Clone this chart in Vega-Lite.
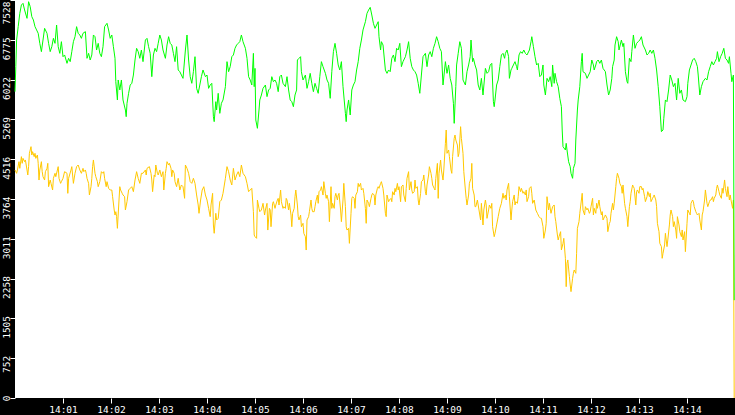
{
  "$schema": "https://vega.github.io/schema/vega-lite/v6.json",
  "description": "Two live series over 15 minutes, 14:00 to 14:15, on a black frame",
  "width": 720,
  "height": 398,
  "autosize": {"type": "none"},
  "padding": {"left": 15, "top": 0, "right": 0, "bottom": 17},
  "background": "black",
  "config": {
    "view": {"fill": "white", "stroke": null},
    "axis": {
      "grid": false,
      "domain": false,
      "tickColor": "white",
      "tickSize": 5,
      "labelColor": "white",
      "labelFont": "DejaVu Sans Mono",
      "labelFontSize": 9.5,
      "title": null
    }
  },
  "datasets": {
    "g": [
      {"t":0,"v":5794},{"t":1,"v":6267},{"t":2,"v":6771},{"t":4,"v":7024},{"t":6,"v":7276},{"t":8,"v":7433},{"t":10,"v":7465},{"t":12,"v":7339},{"t":15,"v":7181},{"t":17,"v":7496},{"t":19,"v":7402},{"t":21,"v":7213},{"t":23,"v":7150},{"t":25,"v":7024},{"t":27,"v":6961},{"t":29,"v":6898},{"t":31,"v":6708},{"t":33,"v":6551},{"t":35,"v":6771},{"t":37,"v":6992},{"t":40,"v":6898},{"t":42,"v":6708},{"t":44,"v":6551},{"t":46,"v":6645},{"t":48,"v":6803},{"t":50,"v":6708},{"t":52,"v":7055},{"t":54,"v":6645},{"t":56,"v":6519},{"t":58,"v":6740},{"t":60,"v":6456},{"t":62,"v":6488},{"t":65,"v":6330},{"t":67,"v":6425},{"t":69,"v":6362},{"t":71,"v":6551},{"t":73,"v":6740},{"t":75,"v":6834},{"t":77,"v":7024},{"t":79,"v":6898},{"t":81,"v":6866},{"t":83,"v":6803},{"t":85,"v":6898},{"t":88,"v":6929},{"t":90,"v":6425},{"t":92,"v":6519},{"t":94,"v":6393},{"t":96,"v":6488},{"t":98,"v":6866},{"t":100,"v":6834},{"t":102,"v":6582},{"t":104,"v":6708},{"t":106,"v":6519},{"t":108,"v":6456},{"t":110,"v":6645},{"t":112,"v":7024},{"t":115,"v":7087},{"t":117,"v":6961},{"t":119,"v":6803},{"t":121,"v":6866},{"t":123,"v":6645},{"t":125,"v":6425},{"t":126,"v":5983},{"t":128,"v":5637},{"t":129,"v":6015},{"t":131,"v":5826},{"t":133,"v":6015},{"t":135,"v":5637},{"t":138,"v":5447},{"t":139,"v":5321},{"t":140,"v":5574},{"t":142,"v":5763},{"t":144,"v":5920},{"t":146,"v":5952},{"t":148,"v":6109},{"t":150,"v":6393},{"t":152,"v":6614},{"t":154,"v":6551},{"t":156,"v":6425},{"t":158,"v":6582},{"t":160,"v":6362},{"t":163,"v":6771},{"t":165,"v":6803},{"t":167,"v":6645},{"t":169,"v":6519},{"t":171,"v":6078},{"t":173,"v":6488},{"t":175,"v":6614},{"t":177,"v":6551},{"t":179,"v":6708},{"t":181,"v":6866},{"t":183,"v":6771},{"t":185,"v":6582},{"t":188,"v":6425},{"t":190,"v":6677},{"t":192,"v":6834},{"t":194,"v":6708},{"t":196,"v":6677},{"t":198,"v":6519},{"t":200,"v":6362},{"t":202,"v":6645},{"t":204,"v":6204},{"t":206,"v":6172},{"t":208,"v":6109},{"t":210,"v":6046},{"t":213,"v":6582},{"t":215,"v":6866},{"t":217,"v":6393},{"t":219,"v":6078},{"t":221,"v":5952},{"t":223,"v":6172},{"t":225,"v":6456},{"t":227,"v":5857},{"t":229,"v":5763},{"t":231,"v":5920},{"t":233,"v":6078},{"t":235,"v":6204},{"t":238,"v":6078},{"t":240,"v":6109},{"t":242,"v":5857},{"t":244,"v":5920},{"t":246,"v":5952},{"t":248,"v":5321},{"t":249,"v":5227},{"t":251,"v":5605},{"t":252,"v":5447},{"t":254,"v":5763},{"t":256,"v":5384},{"t":258,"v":5574},{"t":260,"v":5637},{"t":263,"v":5889},{"t":265,"v":6362},{"t":267,"v":6172},{"t":269,"v":6267},{"t":271,"v":6456},{"t":273,"v":6488},{"t":275,"v":6614},{"t":277,"v":6677},{"t":279,"v":6708},{"t":281,"v":6740},{"t":283,"v":6866},{"t":285,"v":6740},{"t":288,"v":6614},{"t":290,"v":6425},{"t":292,"v":6078},{"t":294,"v":6015},{"t":296,"v":5920},{"t":298,"v":6519},{"t":299,"v":5889},
      {"t":300,"v":6235},{"t":301,"v":5258},{"t":303,"v":5101},{"t":305,"v":5447},{"t":306,"v":5637},{"t":308,"v":5731},{"t":310,"v":5857},{"t":313,"v":5920},{"t":315,"v":5700},{"t":317,"v":5826},{"t":319,"v":5857},{"t":321,"v":6078},{"t":323,"v":5983},{"t":325,"v":6015},{"t":327,"v":5952},{"t":329,"v":5794},{"t":331,"v":6078},{"t":333,"v":6109},{"t":335,"v":5952},{"t":338,"v":5889},{"t":340,"v":6078},{"t":342,"v":5826},{"t":344,"v":5637},{"t":346,"v":5605},{"t":348,"v":5510},{"t":350,"v":5731},{"t":352,"v":5826},{"t":353,"v":6393},{"t":355,"v":6425},{"t":357,"v":6456},{"t":358,"v":6172},{"t":360,"v":6015},{"t":363,"v":6109},{"t":365,"v":5857},{"t":367,"v":5983},{"t":369,"v":6141},{"t":371,"v":5952},{"t":373,"v":5794},{"t":375,"v":5952},{"t":377,"v":5857},{"t":379,"v":5763},{"t":381,"v":6078},{"t":383,"v":6362},{"t":385,"v":6267},{"t":388,"v":6141},{"t":390,"v":6015},{"t":392,"v":5952},{"t":394,"v":5668},{"t":396,"v":6172},{"t":398,"v":6551},{"t":400,"v":6708},{"t":402,"v":6519},{"t":404,"v":6299},{"t":406,"v":6204},{"t":408,"v":6362},{"t":410,"v":5889},{"t":413,"v":5384},{"t":414,"v":5227},{"t":415,"v":5447},{"t":417,"v":5637},{"t":419,"v":5353},{"t":421,"v":5826},{"t":423,"v":5920},{"t":425,"v":5983},{"t":427,"v":6204},{"t":429,"v":6362},{"t":431,"v":6614},{"t":433,"v":6771},{"t":435,"v":6961},{"t":438,"v":7118},{"t":440,"v":7276},{"t":442,"v":7339},{"t":444,"v":7389},{"t":446,"v":7244},{"t":448,"v":7087},{"t":450,"v":6992},{"t":452,"v":7055},{"t":454,"v":7118},{"t":455,"v":6834},{"t":457,"v":6582},{"t":458,"v":6740},{"t":460,"v":6677},{"t":463,"v":6204},{"t":465,"v":6141},{"t":467,"v":6204},{"t":469,"v":6172},{"t":471,"v":6425},{"t":473,"v":6488},{"t":475,"v":6362},{"t":477,"v":6614},{"t":479,"v":6582},{"t":481,"v":6708},{"t":483,"v":6267},{"t":485,"v":6362},{"t":488,"v":6456},{"t":490,"v":6582},{"t":492,"v":6740},{"t":494,"v":6425},{"t":496,"v":6267},{"t":498,"v":6204},{"t":500,"v":6172},{"t":502,"v":6109},{"t":504,"v":5952},{"t":506,"v":5763},{"t":508,"v":6109},{"t":510,"v":6456},{"t":513,"v":6519},{"t":515,"v":6267},{"t":517,"v":6488},{"t":519,"v":6551},{"t":521,"v":6456},{"t":523,"v":6614},{"t":525,"v":6708},{"t":527,"v":6834},{"t":529,"v":6740},{"t":531,"v":6614},{"t":533,"v":6551},{"t":535,"v":5920},{"t":538,"v":6362},{"t":540,"v":6141},{"t":542,"v":6299},{"t":544,"v":6046},{"t":546,"v":5920},{"t":548,"v":5574},{"t":549,"v":5195},{"t":551,"v":5889},{"t":552,"v":6299},{"t":554,"v":6519},{"t":556,"v":6740},{"t":558,"v":6614},{"t":560,"v":6015},{"t":563,"v":5920},{"t":565,"v":6172},{"t":567,"v":6299},{"t":569,"v":6456},{"t":570,"v":6771},{"t":572,"v":6362},{"t":573,"v":6425},{"t":575,"v":6299},{"t":577,"v":6204},{"t":579,"v":5920},{"t":581,"v":5826},{"t":583,"v":6046},{"t":585,"v":5731},{"t":588,"v":6235},{"t":590,"v":6141},{"t":592,"v":6172},{"t":594,"v":6299},{"t":596,"v":6330},{"t":598,"v":5605},{"t":599,"v":5510},
      {"t":600,"v":5637},{"t":602,"v":5920},{"t":604,"v":6015},{"t":606,"v":6267},{"t":608,"v":6488},{"t":610,"v":6519},{"t":612,"v":6425},{"t":613,"v":6519},{"t":615,"v":6582},{"t":617,"v":6456},{"t":618,"v":6046},{"t":620,"v":6204},{"t":621,"v":6235},{"t":623,"v":6299},{"t":625,"v":6362},{"t":627,"v":6267},{"t":628,"v":6204},{"t":630,"v":6488},{"t":632,"v":6551},{"t":634,"v":6519},{"t":636,"v":6582},{"t":638,"v":6519},{"t":640,"v":6488},{"t":643,"v":6582},{"t":645,"v":6740},{"t":646,"v":6834},{"t":648,"v":6645},{"t":650,"v":6456},{"t":652,"v":6299},{"t":654,"v":6330},{"t":656,"v":6078},{"t":658,"v":6109},{"t":660,"v":6299},{"t":661,"v":5920},{"t":663,"v":5731},{"t":665,"v":6046},{"t":667,"v":5983},{"t":669,"v":6078},{"t":671,"v":5889},{"t":672,"v":6299},{"t":674,"v":5952},{"t":675,"v":6141},{"t":677,"v":5983},{"t":679,"v":5889},{"t":681,"v":5668},{"t":683,"v":5510},{"t":684,"v":5069},{"t":685,"v":4754},{"t":688,"v":4691},{"t":689,"v":4817},{"t":690,"v":4691},{"t":692,"v":4470},{"t":694,"v":4376},{"t":695,"v":4250},{"t":697,"v":4155},{"t":698,"v":4344},{"t":700,"v":4439},{"t":701,"v":4880},{"t":703,"v":5447},{"t":704,"v":5637},{"t":706,"v":5889},{"t":708,"v":6362},{"t":709,"v":6519},{"t":710,"v":6172},{"t":713,"v":6141},{"t":715,"v":6046},{"t":717,"v":6109},{"t":719,"v":6172},{"t":721,"v":6393},{"t":723,"v":6299},{"t":724,"v":6204},{"t":726,"v":6299},{"t":727,"v":6362},{"t":729,"v":6393},{"t":731,"v":6330},{"t":733,"v":6393},{"t":735,"v":6235},{"t":738,"v":6172},{"t":740,"v":5920},{"t":742,"v":5731},{"t":744,"v":5826},{"t":746,"v":6046},{"t":747,"v":6267},{"t":749,"v":6393},{"t":750,"v":6677},{"t":752,"v":6834},{"t":754,"v":6740},{"t":755,"v":6582},{"t":758,"v":6771},{"t":760,"v":6645},{"t":761,"v":6708},{"t":763,"v":6172},{"t":765,"v":5983},{"t":766,"v":5952},{"t":768,"v":6425},{"t":770,"v":6362},{"t":771,"v":6551},{"t":773,"v":6866},{"t":775,"v":6614},{"t":777,"v":6708},{"t":779,"v":6740},{"t":781,"v":6771},{"t":783,"v":6834},{"t":785,"v":6677},{"t":788,"v":6582},{"t":790,"v":6488},{"t":792,"v":6519},{"t":794,"v":6582},{"t":796,"v":6519},{"t":798,"v":6582},{"t":800,"v":6425},{"t":802,"v":6204},{"t":804,"v":5889},{"t":806,"v":5510},{"t":808,"v":5038},{"t":810,"v":5069},{"t":811,"v":5290},{"t":813,"v":5637},{"t":815,"v":5605},{"t":817,"v":5826},{"t":819,"v":6109},{"t":821,"v":6015},{"t":823,"v":5889},{"t":825,"v":5952},{"t":827,"v":5637},{"t":829,"v":6046},{"t":831,"v":5763},{"t":833,"v":5826},{"t":835,"v":5637},{"t":838,"v":5605},{"t":840,"v":5700},{"t":841,"v":5952},{"t":843,"v":6204},{"t":845,"v":6299},{"t":847,"v":6393},{"t":849,"v":6425},{"t":851,"v":6362},{"t":853,"v":6267},{"t":854,"v":6109},{"t":856,"v":5731},{"t":858,"v":5889},{"t":860,"v":5983},{"t":863,"v":6046},{"t":865,"v":6015},{"t":867,"v":6172},{"t":869,"v":6267},{"t":871,"v":6362},{"t":873,"v":6299},{"t":875,"v":6362},{"t":877,"v":6425},{"t":878,"v":6551},{"t":880,"v":6362},{"t":882,"v":6456},{"t":884,"v":6519},{"t":886,"v":6614},{"t":888,"v":6425},{"t":890,"v":6393},{"t":892,"v":6330},{"t":893,"v":6456},{"t":895,"v":6141},{"t":896,"v":5983},{"t":898,"v":6109},{"t":899,"v":1850}
    ],
    "o": [
      {"t":0,"v":4313},{"t":2,"v":4250},{"t":3,"v":4313},{"t":5,"v":4470},{"t":6,"v":4344},{"t":8,"v":4565},{"t":9,"v":4439},{"t":10,"v":4533},{"t":12,"v":4470},{"t":13,"v":4502},{"t":15,"v":4313},{"t":16,"v":4218},{"t":17,"v":4376},{"t":18,"v":4628},{"t":20,"v":4754},{"t":21,"v":4596},{"t":22,"v":4659},{"t":24,"v":4565},{"t":25,"v":4628},{"t":26,"v":4533},{"t":28,"v":4596},{"t":29,"v":4439},{"t":30,"v":4123},{"t":31,"v":4313},{"t":33,"v":4470},{"t":34,"v":4281},{"t":35,"v":4186},{"t":37,"v":4123},{"t":38,"v":4281},{"t":40,"v":4344},{"t":41,"v":4439},{"t":42,"v":3997},{"t":44,"v":4123},{"t":45,"v":4060},{"t":47,"v":3934},{"t":48,"v":4155},{"t":50,"v":4250},{"t":51,"v":4186},{"t":53,"v":4313},{"t":54,"v":4376},{"t":55,"v":4155},{"t":57,"v":4060},{"t":58,"v":4092},{"t":60,"v":4155},{"t":62,"v":4281},{"t":65,"v":4250},{"t":66,"v":3871},{"t":67,"v":4155},{"t":70,"v":4313},{"t":71,"v":4376},{"t":73,"v":4060},{"t":75,"v":4250},{"t":77,"v":4376},{"t":79,"v":4407},{"t":81,"v":4313},{"t":83,"v":4250},{"t":85,"v":4344},{"t":86,"v":4281},{"t":88,"v":4313},{"t":89,"v":4250},{"t":90,"v":4155},{"t":92,"v":4060},{"t":93,"v":3840},{"t":95,"v":3997},{"t":96,"v":4155},{"t":97,"v":4376},{"t":98,"v":4502},{"t":100,"v":4250},{"t":101,"v":4186},{"t":103,"v":4092},{"t":104,"v":3997},{"t":106,"v":4092},{"t":108,"v":4281},{"t":110,"v":4250},{"t":111,"v":4281},{"t":112,"v":4155},{"t":114,"v":3997},{"t":115,"v":4092},{"t":117,"v":3966},{"t":119,"v":3934},{"t":121,"v":3934},{"t":122,"v":3808},{"t":124,"v":3556},{"t":125,"v":3461},{"t":126,"v":3524},{"t":127,"v":3430},{"t":128,"v":3209},{"t":130,"v":3745},{"t":131,"v":3997},{"t":132,"v":3934},{"t":134,"v":3871},{"t":135,"v":3840},{"t":137,"v":3808},{"t":138,"v":3556},{"t":140,"v":3714},{"t":142,"v":3934},{"t":144,"v":3966},{"t":146,"v":3997},{"t":148,"v":3903},{"t":150,"v":4123},{"t":152,"v":4281},{"t":154,"v":4155},{"t":156,"v":4060},{"t":158,"v":4250},{"t":160,"v":4250},{"t":163,"v":4313},{"t":164,"v":4218},{"t":165,"v":4344},{"t":168,"v":4376},{"t":170,"v":4250},{"t":171,"v":4123},{"t":172,"v":3903},{"t":174,"v":4218},{"t":175,"v":4186},{"t":176,"v":4407},{"t":178,"v":4250},{"t":179,"v":4218},{"t":181,"v":4313},{"t":183,"v":4186},{"t":185,"v":4281},{"t":186,"v":3934},{"t":188,"v":4250},{"t":189,"v":4344},{"t":190,"v":4470},{"t":192,"v":4407},{"t":193,"v":4439},{"t":195,"v":4344},{"t":196,"v":4186},{"t":197,"v":4313},{"t":199,"v":4250},{"t":200,"v":4092},{"t":202,"v":3997},{"t":204,"v":4155},{"t":206,"v":3934},{"t":208,"v":4029},{"t":210,"v":3997},{"t":212,"v":3777},{"t":213,"v":4407},{"t":215,"v":4344},{"t":217,"v":4250},{"t":219,"v":4092},{"t":221,"v":4060},{"t":223,"v":4155},{"t":225,"v":4060},{"t":227,"v":3840},{"t":229,"v":3651},{"t":230,"v":3493},{"t":232,"v":3745},{"t":234,"v":3934},{"t":236,"v":3997},{"t":238,"v":3840},{"t":240,"v":3745},{"t":242,"v":3587},{"t":244,"v":3430},{"t":245,"v":3651},{"t":247,"v":3871},{"t":248,"v":3272},{"t":249,"v":3115},{"t":251,"v":3493},{"t":252,"v":3367},{"t":254,"v":3398},{"t":256,"v":3714},{"t":258,"v":3745},{"t":260,"v":3871},{"t":263,"v":4155},{"t":265,"v":4376},{"t":267,"v":4281},{"t":269,"v":4123},{"t":271,"v":4029},{"t":273,"v":4344},{"t":275,"v":4123},{"t":277,"v":4218},{"t":279,"v":4281},{"t":281,"v":4186},{"t":283,"v":4407},{"t":285,"v":4250},{"t":288,"v":4186},{"t":290,"v":4060},{"t":292,"v":3903},{"t":294,"v":3934},{"t":296,"v":3966},{"t":298,"v":3524},{"t":299,"v":3083},
      {"t":300,"v":3051},{"t":302,"v":3020},{"t":303,"v":3745},{"t":305,"v":3587},{"t":306,"v":3524},{"t":308,"v":3556},{"t":310,"v":3682},{"t":312,"v":3461},{"t":313,"v":3556},{"t":315,"v":3682},{"t":316,"v":3177},{"t":318,"v":3587},{"t":319,"v":3556},{"t":320,"v":3240},{"t":322,"v":3682},{"t":323,"v":3713},{"t":325,"v":3587},{"t":326,"v":3650},{"t":328,"v":3745},{"t":329,"v":3776},{"t":330,"v":3650},{"t":332,"v":3934},{"t":333,"v":3713},{"t":335,"v":3587},{"t":336,"v":3619},{"t":338,"v":3587},{"t":339,"v":3776},{"t":340,"v":3745},{"t":342,"v":3556},{"t":343,"v":3682},{"t":345,"v":3461},{"t":346,"v":3240},{"t":347,"v":3493},{"t":349,"v":3587},{"t":350,"v":3808},{"t":351,"v":3934},{"t":353,"v":3650},{"t":354,"v":3430},{"t":355,"v":3367},{"t":357,"v":3461},{"t":358,"v":3240},{"t":360,"v":3304},{"t":361,"v":3114},{"t":363,"v":3051},{"t":364,"v":2799},{"t":365,"v":3367},{"t":367,"v":3430},{"t":368,"v":3524},{"t":370,"v":3745},{"t":371,"v":3587},{"t":372,"v":3524},{"t":374,"v":3524},{"t":375,"v":3619},{"t":376,"v":3713},{"t":378,"v":3839},{"t":379,"v":3682},{"t":380,"v":3902},{"t":382,"v":3934},{"t":383,"v":3997},{"t":385,"v":3839},{"t":386,"v":4092},{"t":388,"v":3871},{"t":389,"v":3776},{"t":390,"v":3839},{"t":392,"v":3713},{"t":393,"v":3335},{"t":395,"v":3997},{"t":396,"v":3587},{"t":397,"v":3682},{"t":399,"v":3587},{"t":400,"v":3808},{"t":401,"v":3871},{"t":403,"v":3745},{"t":404,"v":3839},{"t":405,"v":3871},{"t":407,"v":3556},{"t":408,"v":3335},{"t":410,"v":3745},{"t":411,"v":4060},{"t":413,"v":3619},{"t":414,"v":3240},{"t":415,"v":3177},{"t":417,"v":3209},{"t":418,"v":2925},{"t":420,"v":3493},{"t":421,"v":3776},{"t":422,"v":3808},{"t":424,"v":3776},{"t":425,"v":3587},{"t":426,"v":3839},{"t":428,"v":3902},{"t":429,"v":4060},{"t":430,"v":3997},{"t":432,"v":4060},{"t":433,"v":3934},{"t":435,"v":3965},{"t":436,"v":3871},{"t":438,"v":3587},{"t":439,"v":3304},{"t":440,"v":3745},{"t":442,"v":3682},{"t":443,"v":3619},{"t":445,"v":3776},{"t":446,"v":3839},{"t":447,"v":3871},{"t":449,"v":3839},{"t":450,"v":3650},{"t":451,"v":3839},{"t":453,"v":3965},{"t":454,"v":3997},{"t":455,"v":3965},{"t":457,"v":4060},{"t":458,"v":4092},{"t":460,"v":3965},{"t":461,"v":3839},{"t":463,"v":3493},{"t":464,"v":3430},{"t":465,"v":3839},{"t":467,"v":3713},{"t":468,"v":3745},{"t":470,"v":3776},{"t":471,"v":3713},{"t":472,"v":3902},{"t":474,"v":3839},{"t":475,"v":3965},{"t":476,"v":3902},{"t":478,"v":4060},{"t":479,"v":3934},{"t":480,"v":3997},{"t":482,"v":3713},{"t":483,"v":3997},{"t":485,"v":4029},{"t":486,"v":3839},{"t":488,"v":3713},{"t":489,"v":3965},{"t":490,"v":4155},{"t":492,"v":4281},{"t":493,"v":3934},{"t":495,"v":4092},{"t":496,"v":3934},{"t":497,"v":3871},{"t":499,"v":3902},{"t":500,"v":4123},{"t":501,"v":3965},{"t":503,"v":3997},{"t":504,"v":3745},{"t":505,"v":3650},{"t":507,"v":3871},{"t":508,"v":4092},{"t":510,"v":4123},{"t":511,"v":4218},{"t":513,"v":3902},{"t":514,"v":3839},{"t":515,"v":4029},{"t":517,"v":4218},{"t":518,"v":4375},{"t":520,"v":4249},{"t":521,"v":4155},{"t":522,"v":4029},{"t":524,"v":3965},{"t":525,"v":3934},{"t":526,"v":4155},{"t":528,"v":4438},{"t":529,"v":3776},{"t":530,"v":4249},{"t":532,"v":4501},{"t":533,"v":4312},{"t":535,"v":4123},{"t":536,"v":4312},{"t":538,"v":4817},{"t":539,"v":5069},{"t":540,"v":4628},{"t":542,"v":4691},{"t":543,"v":4565},{"t":545,"v":4312},{"t":546,"v":4249},{"t":547,"v":4565},{"t":549,"v":4911},{"t":550,"v":4974},{"t":551,"v":4880},{"t":553,"v":4785},{"t":554,"v":4565},{"t":555,"v":4628},{"t":557,"v":5132},{"t":558,"v":4911},{"t":560,"v":4628},{"t":561,"v":4281},{"t":563,"v":3934},{"t":564,"v":3776},{"t":565,"v":3650},{"t":567,"v":3839},{"t":568,"v":4060},{"t":570,"v":4155},{"t":571,"v":4438},{"t":572,"v":3965},{"t":574,"v":3839},{"t":575,"v":3619},{"t":576,"v":3619},{"t":578,"v":3745},{"t":579,"v":3650},{"t":580,"v":3556},{"t":582,"v":3367},{"t":583,"v":3682},{"t":585,"v":3272},{"t":586,"v":3556},{"t":588,"v":3745},{"t":589,"v":3650},{"t":590,"v":3398},{"t":592,"v":3556},{"t":593,"v":3650},{"t":595,"v":3587},{"t":596,"v":3682},{"t":597,"v":3240},{"t":599,"v":3051},
      {"t":600,"v":3115},{"t":602,"v":3273},{"t":604,"v":3430},{"t":606,"v":3588},{"t":608,"v":3682},{"t":610,"v":3872},{"t":611,"v":3777},{"t":613,"v":3840},{"t":614,"v":3745},{"t":615,"v":3935},{"t":617,"v":4061},{"t":618,"v":3808},{"t":620,"v":3367},{"t":621,"v":3556},{"t":622,"v":3714},{"t":624,"v":3840},{"t":625,"v":3651},{"t":626,"v":3714},{"t":628,"v":3682},{"t":629,"v":3808},{"t":630,"v":3998},{"t":632,"v":3903},{"t":633,"v":3966},{"t":635,"v":3872},{"t":636,"v":3903},{"t":638,"v":3840},{"t":639,"v":3935},{"t":640,"v":3714},{"t":642,"v":3808},{"t":643,"v":3966},{"t":645,"v":3998},{"t":646,"v":3872},{"t":647,"v":3682},{"t":649,"v":3745},{"t":650,"v":3651},{"t":651,"v":3556},{"t":653,"v":3493},{"t":654,"v":3462},{"t":655,"v":3430},{"t":657,"v":3399},{"t":658,"v":3399},{"t":660,"v":3241},{"t":661,"v":3020},{"t":663,"v":3178},{"t":664,"v":3304},{"t":665,"v":3808},{"t":667,"v":3556},{"t":668,"v":3682},{"t":670,"v":3493},{"t":671,"v":3556},{"t":672,"v":3619},{"t":674,"v":3651},{"t":675,"v":3430},{"t":676,"v":3336},{"t":678,"v":3083},{"t":679,"v":2989},{"t":680,"v":3052},{"t":682,"v":3146},{"t":683,"v":2800},{"t":685,"v":2926},{"t":686,"v":3020},{"t":688,"v":2642},{"t":689,"v":2106},{"t":690,"v":2547},{"t":691,"v":2611},{"t":693,"v":2295},{"t":694,"v":2138},{"t":695,"v":2012},{"t":697,"v":2264},{"t":698,"v":2358},{"t":699,"v":2421},{"t":701,"v":2358},{"t":702,"v":2737},{"t":703,"v":3209},{"t":705,"v":3336},{"t":706,"v":3493},{"t":708,"v":3745},{"t":709,"v":3872},{"t":710,"v":3556},{"t":712,"v":3462},{"t":713,"v":3619},{"t":715,"v":3556},{"t":716,"v":3588},{"t":718,"v":3493},{"t":719,"v":3525},{"t":720,"v":3619},{"t":722,"v":3777},{"t":723,"v":3462},{"t":724,"v":3588},{"t":726,"v":3493},{"t":727,"v":3682},{"t":728,"v":3588},{"t":730,"v":3745},{"t":731,"v":3619},{"t":733,"v":3462},{"t":734,"v":3525},{"t":735,"v":3367},{"t":737,"v":3430},{"t":738,"v":3462},{"t":740,"v":3399},{"t":741,"v":3146},{"t":743,"v":3304},{"t":744,"v":3336},{"t":745,"v":3493},{"t":747,"v":3682},{"t":748,"v":3556},{"t":749,"v":3682},{"t":751,"v":3998},{"t":752,"v":4155},{"t":753,"v":4250},{"t":755,"v":4155},{"t":756,"v":4061},{"t":758,"v":3998},{"t":759,"v":3872},{"t":760,"v":4029},{"t":762,"v":3682},{"t":763,"v":3588},{"t":765,"v":3430},{"t":766,"v":3241},{"t":768,"v":3619},{"t":769,"v":3714},{"t":770,"v":3872},{"t":772,"v":4029},{"t":773,"v":3998},{"t":774,"v":3966},{"t":776,"v":3651},{"t":777,"v":3903},{"t":778,"v":3935},{"t":780,"v":3872},{"t":781,"v":3998},{"t":783,"v":3998},{"t":784,"v":3935},{"t":785,"v":3966},{"t":787,"v":3808},{"t":788,"v":3714},{"t":790,"v":3808},{"t":791,"v":3903},{"t":793,"v":3808},{"t":794,"v":3872},{"t":795,"v":3714},{"t":797,"v":3777},{"t":798,"v":3808},{"t":799,"v":3840},{"t":801,"v":3745},{"t":802,"v":3619},{"t":803,"v":3304},{"t":805,"v":3146},{"t":806,"v":2926},{"t":808,"v":2863},{"t":809,"v":2642},{"t":810,"v":2737},{"t":812,"v":2894},{"t":813,"v":3115},{"t":815,"v":2863},{"t":816,"v":2989},{"t":818,"v":3273},{"t":819,"v":3462},{"t":820,"v":3556},{"t":822,"v":3430},{"t":823,"v":3241},{"t":824,"v":3336},{"t":826,"v":3178},{"t":827,"v":3020},{"t":828,"v":3430},{"t":830,"v":3273},{"t":831,"v":3146},{"t":833,"v":3052},{"t":834,"v":3178},{"t":835,"v":2989},{"t":837,"v":3146},{"t":838,"v":2768},{"t":840,"v":3304},{"t":841,"v":3556},{"t":843,"v":3493},{"t":844,"v":3462},{"t":845,"v":3682},{"t":847,"v":3745},{"t":848,"v":3714},{"t":849,"v":3619},{"t":851,"v":3525},{"t":852,"v":3493},{"t":853,"v":3462},{"t":855,"v":3493},{"t":856,"v":3367},{"t":858,"v":3178},{"t":859,"v":3462},{"t":860,"v":3525},{"t":862,"v":3745},{"t":863,"v":3935},{"t":865,"v":3682},{"t":866,"v":3619},{"t":868,"v":3714},{"t":869,"v":3745},{"t":870,"v":3745},{"t":872,"v":3808},{"t":873,"v":3714},{"t":874,"v":3777},{"t":876,"v":3840},{"t":877,"v":3966},{"t":878,"v":4029},{"t":880,"v":3903},{"t":881,"v":3840},{"t":883,"v":3777},{"t":884,"v":3966},{"t":885,"v":3872},{"t":887,"v":4124},{"t":888,"v":3966},{"t":890,"v":3808},{"t":891,"v":3998},{"t":893,"v":3745},{"t":894,"v":3840},{"t":895,"v":3745},{"t":897,"v":3588},{"t":898,"v":3745},{"t":899,"v":0}
    ]
  },
  "encoding": {
    "x": {
      "field": "t",
      "type": "quantitative",
      "scale": {"domain": [0, 900], "nice": false, "zero": false},
      "axis": {
        "values": [60, 120, 180, 240, 300, 360, 420, 480, 540, 600, 660, 720, 780, 840],
        "labelExpr": "'14:' + (datum.value < 600 ? '0' : '') + (datum.value / 60)",
        "labelPadding": 1,
        "labelFlush": false
      }
    },
    "y": {
      "field": "v",
      "type": "quantitative",
      "scale": {"domain": [0, 7528], "nice": false},
      "axis": {
        "values": [0, 752, 1505, 2258, 3011, 3764, 4516, 5269, 6022, 6775, 7528],
        "format": "d",
        "labelAngle": -90,
        "labelAlign": "right",
        "labelBaseline": "alphabetic",
        "labelPadding": 1,
        "labelOffset": {"condition": {"test": "datum.value >= 7528", "value": 1}, "value": -3},
        "labelFlush": false,
        "labelOverlap": false
      }
    }
  },
  "layer": [
    {
      "data": {"name": "o"},
      "mark": {"type": "line", "color": "#ffc800", "strokeWidth": 1}
    },
    {
      "data": {"name": "g"},
      "mark": {"type": "line", "color": "#00ff00", "strokeWidth": 1}
    }
  ]
}
